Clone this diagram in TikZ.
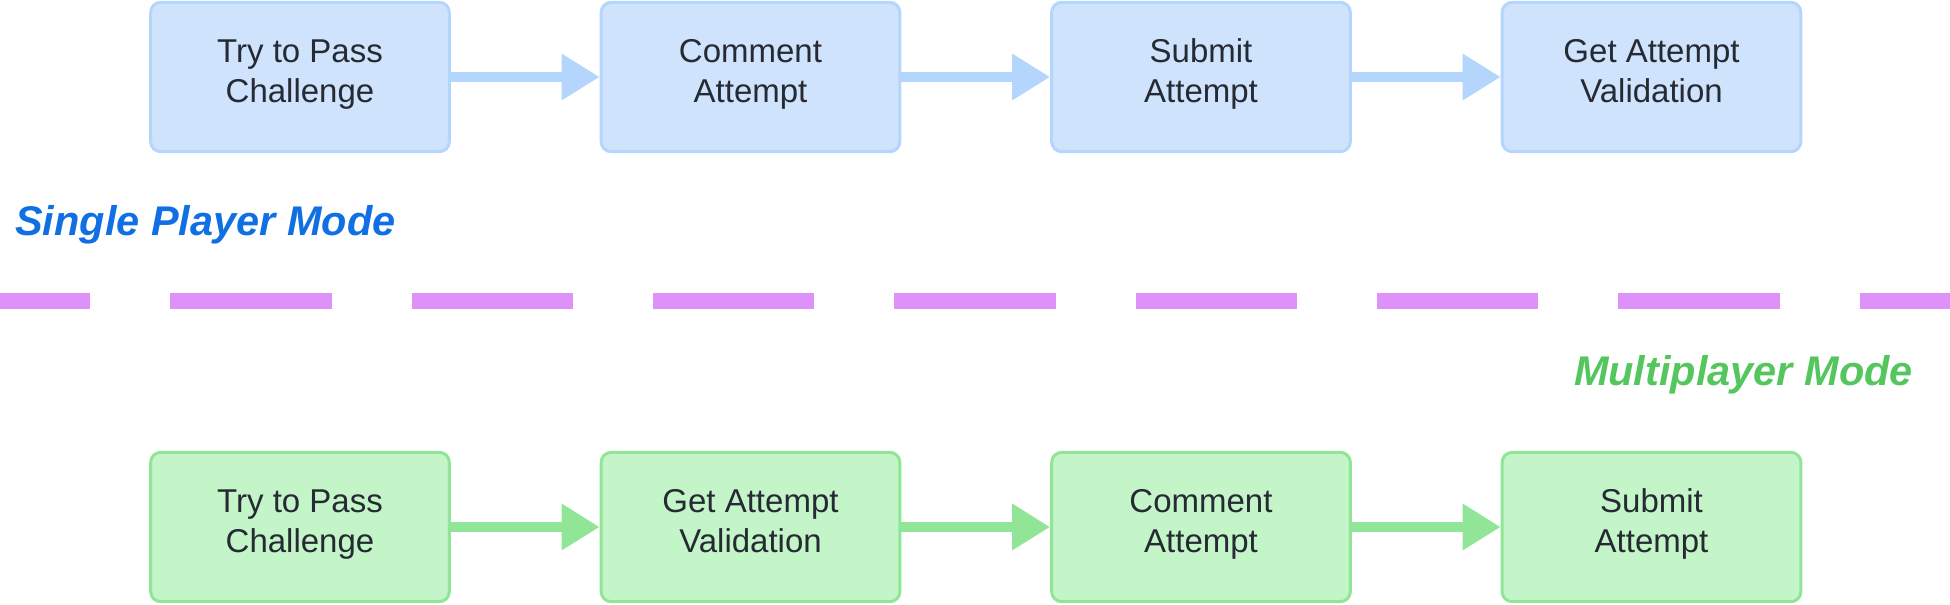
\documentclass[tikz,border=0pt]{standalone}
\usepackage{fontspec}
\setmainfont{Liberation Sans}
\usetikzlibrary{arrows.meta}
\definecolor{bfill}{HTML}{CFE3FD}
\definecolor{bline}{HTML}{B4D5FC}
\definecolor{gfill}{HTML}{C3F5C8}
\definecolor{gline}{HTML}{91E596}
\definecolor{dashc}{HTML}{DF91FA}
\definecolor{btext}{HTML}{1070E3}
\definecolor{gtext}{HTML}{55C65E}
\definecolor{boxtext}{HTML}{262A33}
\tikzset{
  stepbox/.style={rectangle, rounded corners=7.5pt, line width=2.25pt,
    minimum width=224pt, minimum height=112pt, align=center, text=boxtext,
    font=\fontsize{24.75pt}{30pt}\selectfont, inner sep=0pt,
    execute at end node={\rule[-9pt]{0pt}{9pt}}},
  bluebox/.style={stepbox, draw=bline, fill=bfill},
  greenbox/.style={stepbox, draw=gline, fill=gfill},
  flow/.style={line width=7.5pt, -{Triangle[length=28.5pt,width=33pt]}},
  bflow/.style={flow, draw=bline, color=bline},
  gflow/.style={flow, draw=gline, color=gline},
  modelabel/.style={font=\fontsize{31.1pt}{36pt}\selectfont\bfseries\itshape, inner sep=0pt}
}
\begin{document}
\begin{tikzpicture}[x=0.75pt,y=-0.75pt]
\useasboundingbox (0,0) rectangle (1950,604);
% top row
\node[bluebox] (t1) at (300,77) {Try to Pass\\Challenge};
\node[bluebox] (t2) at (750.5,77) {Comment\\Attempt};
\node[bluebox] (t3) at (1201,77) {Submit\\Attempt};
\node[bluebox] (t4) at (1651.5,77) {Get Attempt\\Validation};
\draw[bflow] (t1) -- (t2);
\draw[bflow] (t2) -- (t3);
\draw[bflow] (t3) -- (t4);
% bottom row
\node[greenbox] (b1) at (300,527) {Try to Pass\\Challenge};
\node[greenbox] (b2) at (750.5,527) {Get Attempt\\Validation};
\node[greenbox] (b3) at (1201,527) {Comment\\Attempt};
\node[greenbox] (b4) at (1651.5,527) {Submit\\Attempt};
\draw[gflow] (b1) -- (b2);
\draw[gflow] (b2) -- (b3);
\draw[gflow] (b3) -- (b4);
% labels
\node[modelabel, text=btext, anchor=base west] (sp) at (15,235) {Single Player Mode};
\node[modelabel, text=gtext, anchor=base east] (mp) at (1913,385) {Multiplayer Mode};
% divider
\coordinate (dl) at (0,301);
\coordinate (dr) at (1950,301);
\draw[dashc, line width=12pt, dash pattern=on 121pt off 60pt, dash phase=53.25pt] (dl) -- (dr);
\end{tikzpicture}
\end{document}
